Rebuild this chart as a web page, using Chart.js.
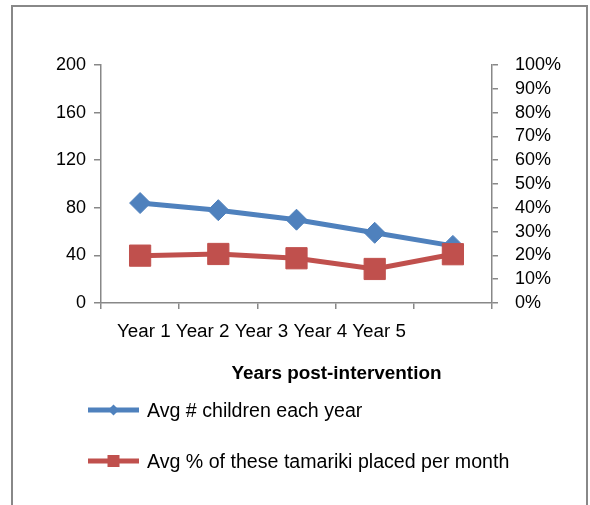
<!DOCTYPE html>
<html>
<head>
<meta charset="utf-8">
<script src="https://cdn.jsdelivr.net/npm/chart.js@4/dist/chart.umd.min.js"></script>
<style>
  html, body { margin: 0; padding: 0; background: #ffffff; }
  #wrap { position: relative; width: 590px; height: 505px; }
</style>
</head>
<body>
<div id="wrap"><canvas id="chart"></canvas></div>
<script>
// Categories and series
const years = ['Year 1', 'Year 2', 'Year 3', 'Year 4', 'Year 5'];
const avgChildren = [84, 78, 70, 59, 48];
const avgPlacedPct = [19.9, 20.6, 18.8, 14.3, 20.5];

const leftTicks = [0, 40, 80, 120, 160, 200];
const rightTicks = [0, 10, 20, 30, 40, 50, 60, 70, 80, 90, 100];

const seriesNames = ['Avg # children each year', 'Avg % of these tamariki placed per month'];
const axisTitle = 'Years post-intervention';

const BLUE = '#4F81BD';
const RED = '#C0504D';
const AXIS = '#888888';
const FONT = '"Liberation Sans", Arial, sans-serif';

// Frame, category text, axis title and legend
const decorations = {
  id: 'decorations',
  beforeDraw(chart) {
    const ctx = chart.ctx;
    ctx.save();
    ctx.fillStyle = '#ffffff';
    ctx.fillRect(0, 0, chart.width, chart.height);
    ctx.fillStyle = AXIS;
    ctx.fillRect(11, 5, 2, chart.height - 5);
    ctx.fillRect(11, 5, 576, 2);
    ctx.fillRect(586, 5, 2, chart.height - 5);
    ctx.restore();
  },
  afterDraw(chart) {
    const ctx = chart.ctx;
    const area = chart.chartArea;
    ctx.save();
    ctx.fillStyle = '#000000';
    ctx.textBaseline = 'alphabetic';

    // category labels run together as one line under the axis
    ctx.font = '18.8px ' + FONT;
    ctx.textAlign = 'left';
    ctx.fillText(years.join(' '), area.left + 16, area.bottom + 34);

    // axis title
    ctx.font = 'bold 18.9px ' + FONT;
    ctx.textAlign = 'center';
    ctx.fillText(axisTitle, (area.left + area.right) / 2 + 40, area.bottom + 76);

    // legend rows
    const rows = [
      { color: BLUE, shape: 'diamond', y: 410 },
      { color: RED, shape: 'square', y: 461 }
    ];
    rows.forEach((r, i) => {
      const x0 = 88, x1 = 139, cx = (x0 + x1) / 2;
      ctx.strokeStyle = r.color;
      ctx.lineWidth = 5;
      ctx.beginPath();
      ctx.moveTo(x0, r.y);
      ctx.lineTo(x1, r.y);
      ctx.stroke();
      ctx.fillStyle = r.color;
      ctx.beginPath();
      if (r.shape === 'diamond') {
        const s = 5.5;
        ctx.moveTo(cx, r.y - s);
        ctx.lineTo(cx + s, r.y);
        ctx.lineTo(cx, r.y + s);
        ctx.lineTo(cx - s, r.y);
        ctx.closePath();
      } else {
        ctx.rect(cx - 6, r.y - 6, 12, 12);
      }
      ctx.fill();
      ctx.fillStyle = '#000000';
      ctx.font = '19.6px ' + FONT;
      ctx.textAlign = 'left';
      ctx.fillText(seriesNames[i], 147, r.y + 7);
    });
    ctx.restore();
  }
};

new Chart(document.getElementById('chart'), {
  type: 'line',
  data: {
    labels: years,
    datasets: [
      {
        label: seriesNames[0],
        data: avgChildren,
        yAxisID: 'yLeft',
        borderColor: BLUE,
        backgroundColor: BLUE,
        borderWidth: 5,
        pointStyle: 'rectRot',
        pointRadius: 10.5,
        pointBorderWidth: 1,
        pointBorderColor: BLUE,
        pointBackgroundColor: BLUE,
        tension: 0,
        order: 1
      },
      {
        label: seriesNames[1],
        data: avgPlacedPct,
        yAxisID: 'yRight',
        borderColor: RED,
        backgroundColor: RED,
        borderWidth: 5,
        pointStyle: 'rect',
        pointRadius: 15,
        pointBorderWidth: 1,
        pointBorderColor: RED,
        pointBackgroundColor: RED,
        tension: 0,
        order: 0
      }
    ]
  },
  options: {
    responsive: true,
    maintainAspectRatio: false,
    animation: false,
    layout: { padding: { top: 65, left: 0, right: 0, bottom: 0 } },
    plugins: {
      legend: { display: false },
      tooltip: { enabled: false },
      title: { display: false }
    },
    scales: {
      x: {
        type: 'category',
        offset: true,
        grid: {
          offset: true,
          drawOnChartArea: false,
          drawTicks: true,
          tickLength: 6,
          color: AXIS,
          lineWidth: 1.5
        },
        border: { display: true, color: AXIS, width: 1.5 },
        ticks: { display: false },
        afterFit(scale) { scale.height = 202; }
      },
      yLeft: {
        type: 'linear',
        position: 'left',
        min: 0,
        max: 200,
        afterBuildTicks(scale) { scale.ticks = leftTicks.map(v => ({ value: v })); },
        ticks: {
          autoSkip: false,
          padding: 8,
          color: '#000000',
          font: { family: FONT, size: 18 }
        },
        grid: {
          drawOnChartArea: false,
          drawTicks: true,
          tickLength: 7,
          color: AXIS,
          lineWidth: 1.5
        },
        border: { display: true, color: AXIS, width: 1.5 },
        afterFit(scale) { scale.width = 101; }
      },
      yRight: {
        type: 'linear',
        position: 'right',
        min: 0,
        max: 100,
        afterBuildTicks(scale) { scale.ticks = rightTicks.map(v => ({ value: v })); },
        ticks: {
          autoSkip: false,
          padding: 17,
          color: '#000000',
          font: { family: FONT, size: 18 },
          callback: v => v + '%'
        },
        grid: {
          drawOnChartArea: false,
          drawTicks: true,
          tickLength: 6,
          color: AXIS,
          lineWidth: 1.5
        },
        border: { display: true, color: AXIS, width: 1.5 },
        afterFit(scale) { scale.width = 98; }
      }
    }
  },
  plugins: [decorations]
});
</script>
</body>
</html>
